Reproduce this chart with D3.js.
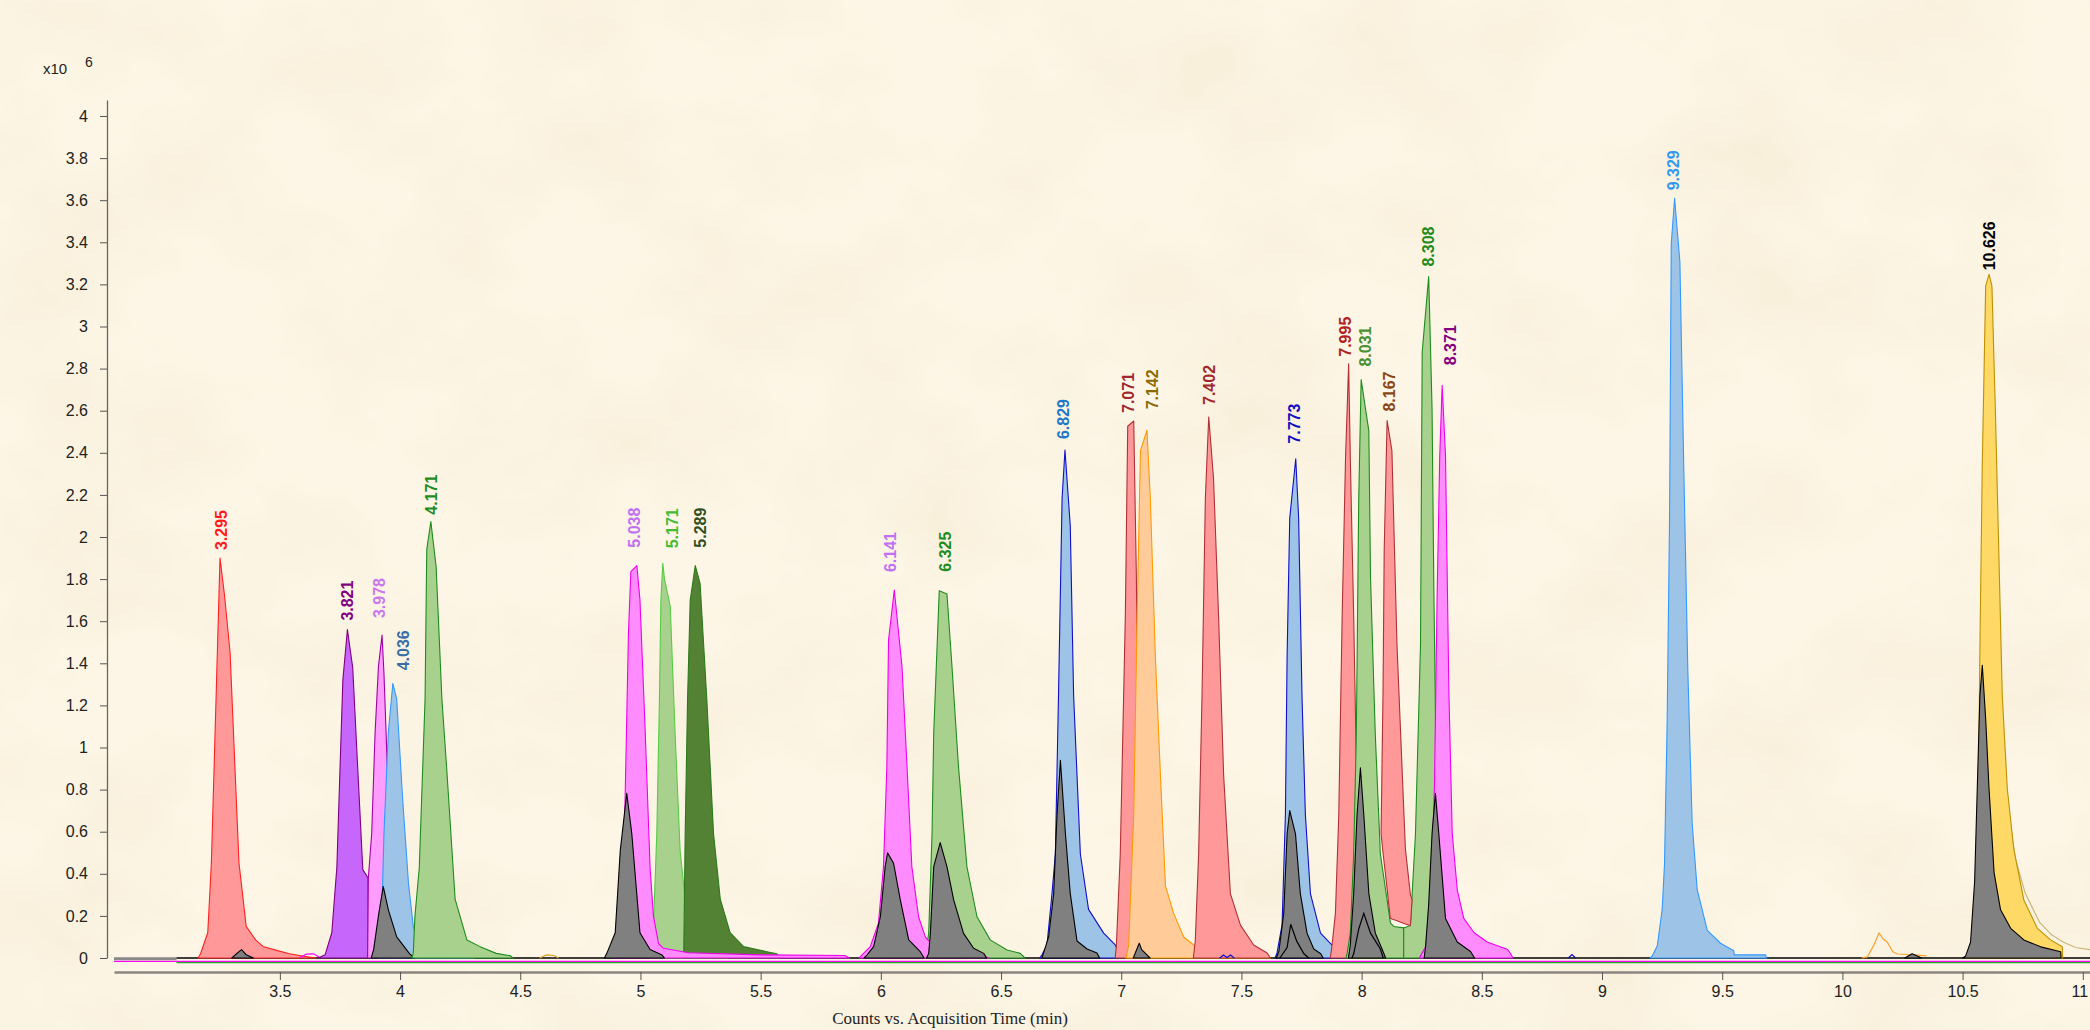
<!DOCTYPE html>
<html><head><meta charset="utf-8">
<script src="https://cdnjs.cloudflare.com/ajax/libs/d3/7.8.5/d3.min.js"></script>
<style>
html,body{margin:0;padding:0;background:#fcf2df;}
svg{display:block;}
</style></head>
<body>
<svg id="c" width="2090" height="1030"></svg>
<script>
// ---------- DATA (time in min, counts in x10^6) ----------
const yTicks = [0,0.2,0.4,0.6,0.8,1,1.2,1.4,1.6,1.8,2,2.2,2.4,2.6,2.8,3,3.2,3.4,3.6,3.8,4];
const xTicks = [3.5,4,4.5,5,5.5,6,6.5,7,7.5,8,8.5,9,9.5,10,10.5,11];

const pk3295 = [[3.16,0],[3.17,0.02],[3.20,0.12],[3.215,0.45],[3.235,1.25],[3.251,1.90],[3.27,1.72],[3.293,1.45],[3.33,0.45],[3.36,0.15],[3.40,0.085],[3.43,0.055],[3.49,0.035],[3.54,0.02],[3.60,0.008],[3.65,0]];
const gy334 = [[3.30,0],[3.33,0.03],[3.341,0.04],[3.36,0.015],[3.39,0]];
const mgBump = [[3.58,0],[3.61,0.018],[3.64,0.02],[3.67,0]];
const pk3821 = [[3.66,0],[3.688,0.015],[3.716,0.12],[3.737,0.43],[3.762,1.32],[3.781,1.56],[3.803,1.38],[3.845,0.42],[3.867,0.38],[3.868,0]];
const pk3978 = [[3.865,0],[3.868,0.38],[3.882,0.59],[3.896,1.067],[3.91,1.384],[3.925,1.534],[3.933,1.352],[3.942,1.067],[3.955,0.6],[3.97,0.3],[3.99,0.1],[4.01,0.03],[4.02,0]];
const pk4036 = [[3.91,0],[3.925,0.25],[3.933,0.59],[3.951,1.07],[3.970,1.305],[3.986,1.23],[4.011,0.75],[4.035,0.355],[4.055,0.15],[4.083,0.04],[4.11,0.015],[4.30,0.01],[4.31,0]];
const gy393 = [[3.88,0],[3.89,0.04],[3.91,0.2],[3.93,0.34],[3.951,0.23],[3.986,0.10],[4.04,0.02],[4.06,0]];
const pk4171 = [[4.05,0],[4.055,0.025],[4.062,0.2],[4.08,0.43],[4.104,1.23],[4.111,1.94],[4.128,2.073],[4.15,1.86],[4.174,1.23],[4.194,0.9],[4.229,0.28],[4.278,0.086],[4.333,0.054],[4.40,0.022],[4.46,0.01],[4.47,0]];
const orBump = [[4.58,0],[4.61,0.015],[4.64,0.012],[4.66,0]];
const pk5171 = [[5.04,0],[5.051,0.054],[5.068,0.59],[5.079,1.23],[5.085,1.70],[5.093,1.875],[5.10,1.80],[5.124,1.67],[5.144,1.07],[5.165,0.51],[5.193,0.2],[5.235,0.054],[5.30,0.03],[5.35,0.01],[5.36,0]];
const pk5289 = [[5.18,0],[5.186,0.59],[5.196,1.23],[5.207,1.70],[5.228,1.864],[5.248,1.78],[5.276,1.23],[5.304,0.59],[5.332,0.28],[5.373,0.12],[5.429,0.054],[5.526,0.03],[5.568,0.02],[5.58,0]];
const pk5038 = [[4.88,0],[4.908,0.12],[4.923,0.28],[4.936,0.75],[4.95,1.54],[4.96,1.835],[4.985,1.864],[4.998,1.70],[5.02,1.07],[5.04,0.43],[5.054,0.20],[5.075,0.07],[5.096,0.046],[5.2,0.025],[5.5,0.015],[5.85,0.012],[5.87,0]];
const gy494 = [[4.85,0],[4.86,0.022],[4.895,0.12],[4.916,0.51],[4.943,0.782],[4.964,0.59],[4.998,0.12],[5.04,0.04],[5.09,0.014],[5.10,0]];
const pk6325 = [[6.18,0],[6.185,0.014],[6.199,0.117],[6.213,0.59],[6.22,1.07],[6.243,1.745],[6.275,1.729],[6.296,1.384],[6.323,0.909],[6.358,0.434],[6.40,0.196],[6.455,0.086],[6.525,0.038],[6.58,0.022],[6.60,0]];
const pk6141 = [[5.91,0],[5.928,0.022],[5.956,0.054],[5.99,0.165],[6.011,0.434],[6.025,0.909],[6.032,1.51],[6.056,1.748],[6.088,1.384],[6.109,0.909],[6.129,0.434],[6.157,0.196],[6.185,0.10],[6.219,0.054],[6.289,0.03],[6.40,0.02],[6.45,0]];
const gy603 = [[5.93,0],[5.942,0.014],[5.97,0.054],[5.998,0.196],[6.018,0.434],[6.028,0.50],[6.053,0.45],[6.081,0.276],[6.116,0.086],[6.164,0.03],[6.18,0]];
const gy625 = [[6.19,0],[6.199,0.022],[6.206,0.117],[6.22,0.434],[6.247,0.548],[6.275,0.434],[6.303,0.276],[6.344,0.117],[6.386,0.046],[6.428,0.022],[6.44,0]];
const pk6829 = [[6.66,0],[6.67,0.014],[6.691,0.062],[6.712,0.306],[6.726,0.494],[6.739,1.245],[6.754,2.185],[6.766,2.413],[6.788,2.053],[6.802,1.245],[6.83,0.494],[6.864,0.231],[6.927,0.118],[6.975,0.062],[6.996,0.014],[7.0,0]];
const gy675 = [[6.67,0],[6.677,0.024],[6.698,0.10],[6.719,0.306],[6.733,0.682],[6.747,0.939],[6.768,0.588],[6.788,0.306],[6.816,0.081],[6.858,0.043],[6.899,0.024],[6.91,0]];
const pk7071 = [[6.975,0],[6.98,0.062],[6.996,0.494],[7.017,1.621],[7.027,2.526],[7.052,2.551],[7.063,1.81],[7.068,1.06],[7.08,0.5],[7.10,0.1],[7.11,0]];
const pk7142 = [[7.02,0],[7.031,0.062],[7.052,0.682],[7.066,1.621],[7.08,2.41],[7.107,2.507],[7.121,2.184],[7.142,1.433],[7.163,0.87],[7.184,0.343],[7.218,0.212],[7.26,0.10],[7.301,0.062],[7.357,0.033],[7.45,0.02],[7.6,0.01],[7.62,0]];
const gy708 = [[7.05,0],[7.075,0.07],[7.085,0.04],[7.12,0]];
const pk7402 = [[7.30,0],[7.308,0.081],[7.322,0.494],[7.336,1.245],[7.35,2.184],[7.364,2.57],[7.384,2.278],[7.405,1.621],[7.426,0.869],[7.454,0.306],[7.496,0.156],[7.551,0.062],[7.607,0.024],[7.62,0]];
const nvBump1 = [[7.41,0],[7.425,0.014],[7.44,0.002],[7.455,0.014],[7.47,0]];
const pk7773 = [[7.64,0],[7.648,0.024],[7.669,0.156],[7.683,0.682],[7.69,1.433],[7.701,2.091],[7.726,2.372],[7.738,2.091],[7.752,1.245],[7.766,0.682],[7.787,0.306],[7.829,0.118],[7.884,0.053],[7.926,0.024],[7.94,0]];
const gy770a = [[7.645,0],[7.656,0.033],[7.676,0.212],[7.69,0.588],[7.701,0.70],[7.725,0.588],[7.745,0.306],[7.773,0.118],[7.801,0.043],[7.83,0.02],[7.84,0]];
const gy770b = [[7.66,0],[7.69,0.05],[7.705,0.16],[7.73,0.08],[7.76,0.02],[7.78,0]];
const pk7995 = [[7.87,0],[7.877,0.062],[7.891,0.212],[7.905,0.682],[7.919,1.621],[7.933,2.372],[7.946,2.823],[7.953,2.372],[7.967,1.621],[7.98,0.8],[7.995,0.2],[8.01,0]];
const pk8031 = [[7.935,0],[7.94,0.024],[7.953,0.118],[7.967,0.494],[7.978,1.057],[7.988,2.184],[7.998,2.748],[8.03,2.504],[8.037,1.809],[8.057,1.057],[8.078,0.494],[8.12,0.166],[8.134,0.15],[8.175,0.143],[8.1751,0]];
const pk8308 = [[8.175,0],[8.1751,0.143],[8.203,0.154],[8.224,0.59],[8.245,1.488],[8.252,2.879],[8.279,3.237],[8.293,2.609],[8.30,1.8],[8.31,0.9],[8.32,0.3],[8.33,0.08],[8.34,0]];
const gy800a = [[7.945,0],[7.953,0.062],[7.967,0.306],[7.981,0.682],[7.995,0.903],[8.009,0.682],[8.03,0.306],[8.057,0.118],[8.085,0.043],[8.10,0]];
const gy800b = [[7.96,0],[7.967,0.02],[7.988,0.138],[8.009,0.212],[8.037,0.118],[8.078,0.043],[8.09,0]];
const pk8167 = [[8.081,0.59,0.59],[8.089,1.26,0.50],[8.094,1.94,0.45],[8.106,2.553,0.33],[8.119,2.46,0.19],[8.126,2.41,0.185],[8.147,1.49,0.177],[8.182,0.52,0.162],[8.203,0.30,0.154],[8.21,0.277,0.277]];
const pk8371 = [[8.24,0],[8.245,0.01],[8.266,0.053],[8.287,0.255],[8.303,0.816],[8.314,1.713],[8.325,2.385],[8.335,2.721],[8.349,2.385],[8.363,1.264],[8.377,0.591],[8.398,0.323],[8.425,0.188],[8.467,0.121],[8.522,0.076],[8.606,0.042],[8.62,0.02],[8.63,0]];
const gy831 = [[8.26,0],[8.266,0.053],[8.279,0.255],[8.293,0.591],[8.307,0.782],[8.321,0.591],[8.349,0.188],[8.398,0.076],[8.453,0.031],[8.47,0]];
const nvBump2 = [[8.86,0],[8.875,0.016],[8.89,0]];
const pk9329 = [[9.20,0],[9.209,0.01],[9.23,0.058],[9.25,0.228],[9.26,0.446],[9.271,1.125],[9.281,2.094],[9.288,3.391],[9.302,3.609],[9.324,3.306],[9.34,2.337],[9.357,1.367],[9.375,0.64],[9.396,0.325],[9.438,0.131],[9.493,0.07],[9.548,0.034],[9.55,0.015],[9.68,0.015],[9.685,0]];
const or1015 = [[10.08,0],[10.104,0.005],[10.13,0.06],[10.152,0.119],[10.17,0.09],[10.187,0.075],[10.21,0.03],[10.229,0.019],[10.30,0.015],[10.35,0.01]];
const gy1029 = [[10.26,0],[10.29,0.02],[10.33,0]];
const pk10626 = [[10.51,0],[10.52,0.008],[10.541,0.075],[10.558,0.362],[10.568,1.026],[10.572,1.468],[10.582,2.352],[10.596,3.193],[10.61,3.248],[10.622,3.193],[10.637,2.574],[10.651,1.91],[10.665,1.247],[10.686,0.804],[10.713,0.517],[10.755,0.274],[10.811,0.141],[10.866,0.086],[10.915,0.053],[10.916,0]];
const yeTail = [[10.70,0.62],[10.72,0.47],[10.76,0.31],[10.82,0.17],[10.87,0.11],[10.92,0.075],[10.97,0.05],[11.03,0.04]];
const gy1060 = [[10.50,0],[10.512,0.008],[10.533,0.075],[10.55,0.362],[10.561,0.804],[10.572,1.247],[10.582,1.39],[10.596,1.136],[10.61,0.804],[10.631,0.406],[10.658,0.229],[10.70,0.141],[10.755,0.086],[10.825,0.053],[10.908,0.03],[10.91,0]];

// baseline traces (level in x10^6, start/end time)
const baseLevels = [[-0.022,3.07,11.03],[-0.016,2.81,11.03],[-0.004,2.81,3.07],[0,3.07,11.03]];

// ---------- STYLES ----------
const RED='#ff9999', PUR='#c766fa', PNK='#ff9cff', BLU='#9dc3e6', GRN='#a9d18e', DGR='#548235', MAG='#ff8cff', ORG='#ffcc99', YEL='#ffd966', GRY='#808080';
const traces = [
 {d:pk3295, f:RED, s:'#ff2020', lab:'3.295', lc:'#ff1a1a', dx:1, gap:8},
 {d:gy334, f:GRY, s:'#000'},
 {d:mgBump, f:null, s:'#ff00ff'},
 {d:pk3821, f:PUR, s:'#800080', lab:'3.821', lc:'#800080', dx:0, gap:9},
 {d:pk3978, f:PNK, s:'#a000a8', lab:'3.978', lc:'#cc77ee', dx:-3, gap:17},
 {d:pk4036, f:BLU, s:'#3399ff', lab:'4.036', lc:'#3a6ea5', dx:10, gap:13},
 {d:gy393, f:GRY, s:'#000'},
 {d:pk4171, f:GRN, s:'#1e8c1e', lab:'4.171', lc:'#1e8c1e', dx:0, gap:7},
 {d:orBump, f:null, s:'#d4a020'},
 {d:pk5171, f:GRN, s:'#55cc44', lab:'5.171', lc:'#44bb33', dx:9, gap:15},
 {d:pk5289, f:DGR, s:'#2a7a1a', lab:'5.289', lc:'#2f4f1f', dx:5, gap:18},
 {d:pk5038, f:MAG, s:'#ee00ee', lab:'5.038', lc:'#c070f0', dx:-3, gap:18},
 {d:gy494, f:GRY, s:'#000'},
 {d:pk6325, f:GRN, s:'#1e8c1e', lab:'6.325', lc:'#1e8c1e', dx:6, gap:19},
 {d:pk6141, f:MAG, s:'#ee00ee', lab:'6.141', lc:'#c070f0', dx:-4, gap:18},
 {d:gy603, f:GRY, s:'#000'},
 {d:gy625, f:GRY, s:'#000'},
 {d:pk6829, f:BLU, s:'#1010c8', lab:'6.829', lc:'#1f77c8', dx:-2, gap:11},
 {d:gy675, f:GRY, s:'#000'},
 {d:pk7071, f:RED, s:'#b03035', lab:'7.071', lc:'#a0282d', dx:-5, gap:8},
 {d:pk7142, f:ORG, s:'#ff9900', lab:'7.142', lc:'#8b6b00', dx:5, gap:21},
 {d:gy708, f:GRY, s:'#000'},
 {d:pk7402, f:RED, s:'#b03035', lab:'7.402', lc:'#a0282d', dx:1, gap:12},
 {d:nvBump1, f:null, s:'#1010c8'},
 {d:pk7773, f:BLU, s:'#1010c8', lab:'7.773', lc:'#1010c0', dx:-2, gap:15},
 {d:gy770a, f:GRY, s:'#000'},
 {d:gy770b, f:null, s:'#000'},
 {d:pk7995, f:RED, s:'#b03035', lab:'7.995', lc:'#b02020', dx:-3, gap:7},
 {d:pk8031, f:GRN, s:'#1e8c1e', lab:'8.031', lc:'#4a9030', dx:4, gap:13},
 {d:pk8308, f:GRN, s:'#1e8c1e', lab:'8.308', lc:'#1e8c1e', dx:0, gap:10},
 {d:gy800a, f:GRY, s:'#000'},
 {d:gy800b, f:null, s:'#000'},
 {d:pk8167, f:RED, s:'#b03035', lab:'8.167', lc:'#8b4513', dx:2, gap:9},
 {d:pk8371, f:MAG, s:'#ee00ee', lab:'8.371', lc:'#800080', dx:8, gap:20},
 {d:gy831, f:GRY, s:'#000'},
 {d:nvBump2, f:null, s:'#1010c8'},
 {d:pk9329, f:BLU, s:'#3399ff', lab:'9.329', lc:'#3399ee', dx:-1, gap:8},
 {d:or1015, f:null, s:'#ffa030'},
 {d:gy1029, f:GRY, s:'#000'},
 {d:yeTail, f:null, s:'#cdb77a'},
 {d:pk10626, f:YEL, s:'#bf9000', lab:'10.626', lc:'#000000', dx:0, gap:4},
 {d:gy1060, f:GRY, s:'#000'}
];
const baseStyles = [['#22aa22',1.2],['#ff00ff',1.2],['#888888',3],['#000000',1.5]];

// ---------- DRAW ----------
const svg = d3.select('#c');
const defs = svg.append('defs');
const flt = defs.append('filter').attr('id','parch').attr('x',0).attr('y',0).attr('width','100%').attr('height','100%');
flt.append('feTurbulence').attr('type','fractalNoise').attr('baseFrequency','0.006 0.008').attr('numOctaves',4).attr('seed',7);
flt.append('feColorMatrix').attr('type','matrix').attr('values','0 0 0 0 0.93  0 0 0 0 0.85  0 0 0 0 0.68  1.6 0 0 0 -0.62');
svg.append('rect').attr('width',2090).attr('height',1030).attr('fill','#fdf6e6');
svg.append('rect').attr('width',2090).attr('height',1030).attr('filter','url(#parch)').attr('opacity',1);

const x = d3.scaleLinear().domain([2.81, 11.03]).range([114, 2090]);
const y = d3.scaleLinear().domain([0, 4.076]).range([958, 100]);

// x axis
const xa = svg.append('g').attr('transform','translate(0,972)')
  .call(d3.axisBottom(x).tickValues(xTicks).tickSize(8).tickSizeOuter(0).tickPadding(6).tickFormat(d=>String(d)));
xa.select('.domain').attr('stroke','#8a8580').attr('stroke-width',2.5);
xa.selectAll('.tick line').attr('stroke','#555');
xa.selectAll('.tick text').attr('fill','#222').style('font','16px "Liberation Sans", Arial, sans-serif')
  .attr('text-anchor',(d,i,n)=> i===n.length-1 ? 'end' : 'middle')
  .attr('dx',(d,i,n)=> i===n.length-1 ? '0.3em' : 0);

// baselines
const bl = d3.line().x(d=>x(d[0])).y(d=>y(d[1]));
baseLevels.forEach((b,i)=>{
  svg.append('path').attr('d', bl([[b[1],b[0]],[b[2],b[0]]]))
    .attr('fill','none').attr('stroke',baseStyles[i][0]).attr('stroke-width',baseStyles[i][1]);
});

// traces
const area = d3.area().x(d=>x(d[0])).y0(d=>y(d.length>2?d[2]:0)).y1(d=>y(d[1]));
const line = d3.line().x(d=>x(d[0])).y(d=>y(d[1]));
const g = svg.append('g');
traces.forEach(t=>{
  if (t.f) {
    g.append('path').attr('d', area(t.d)).attr('fill', t.f).attr('stroke', t.s)
     .attr('stroke-width', 1.1).attr('stroke-linejoin','round');
  } else {
    g.append('path').attr('d', line(t.d)).attr('fill','none').attr('stroke', t.s).attr('stroke-width',1.2);
  }
});

// peak labels
traces.filter(t=>t.lab).forEach(t=>{
  const top = t.d.reduce((a,b)=> b[1]>a[1]?b:a);
  const px = x(top[0]) + t.dx, py = y(top[1]) - t.gap;
  svg.append('text').attr('transform',`translate(${px},${py}) rotate(-90)`)
    .attr('dy','0.36em').attr('text-anchor','start')
    .attr('fill', t.lc).style('font','bold 16px "Liberation Sans", Arial, sans-serif')
    .text(t.lab);
});

// y axis
const ya = svg.append('g').attr('transform','translate(107,0)')
  .call(d3.axisLeft(y).tickValues(yTicks).tickSize(7).tickSizeOuter(0).tickPadding(12).tickFormat(d=>String(d)));
ya.select('.domain').attr('stroke','#6a6560').attr('stroke-width',1.3);
ya.selectAll('.tick line').attr('stroke','#555');
ya.selectAll('.tick text').attr('fill','#222').style('font','16px "Liberation Sans", Arial, sans-serif');

// exponent label
svg.append('text').attr('x',43).attr('y',74).attr('fill','#222').style('font','15px "Liberation Sans", Arial, sans-serif').text('x10');
svg.append('text').attr('x',85).attr('y',67).attr('fill','#222').style('font','14px "Liberation Sans", Arial, sans-serif').text('6');

// axis title
svg.append('text').attr('x',950).attr('y',1024).attr('text-anchor','middle').attr('fill','#222')
  .style('font','17px "Liberation Serif", "DejaVu Serif", serif').text('Counts vs. Acquisition Time (min)');
</script>
</body></html>
